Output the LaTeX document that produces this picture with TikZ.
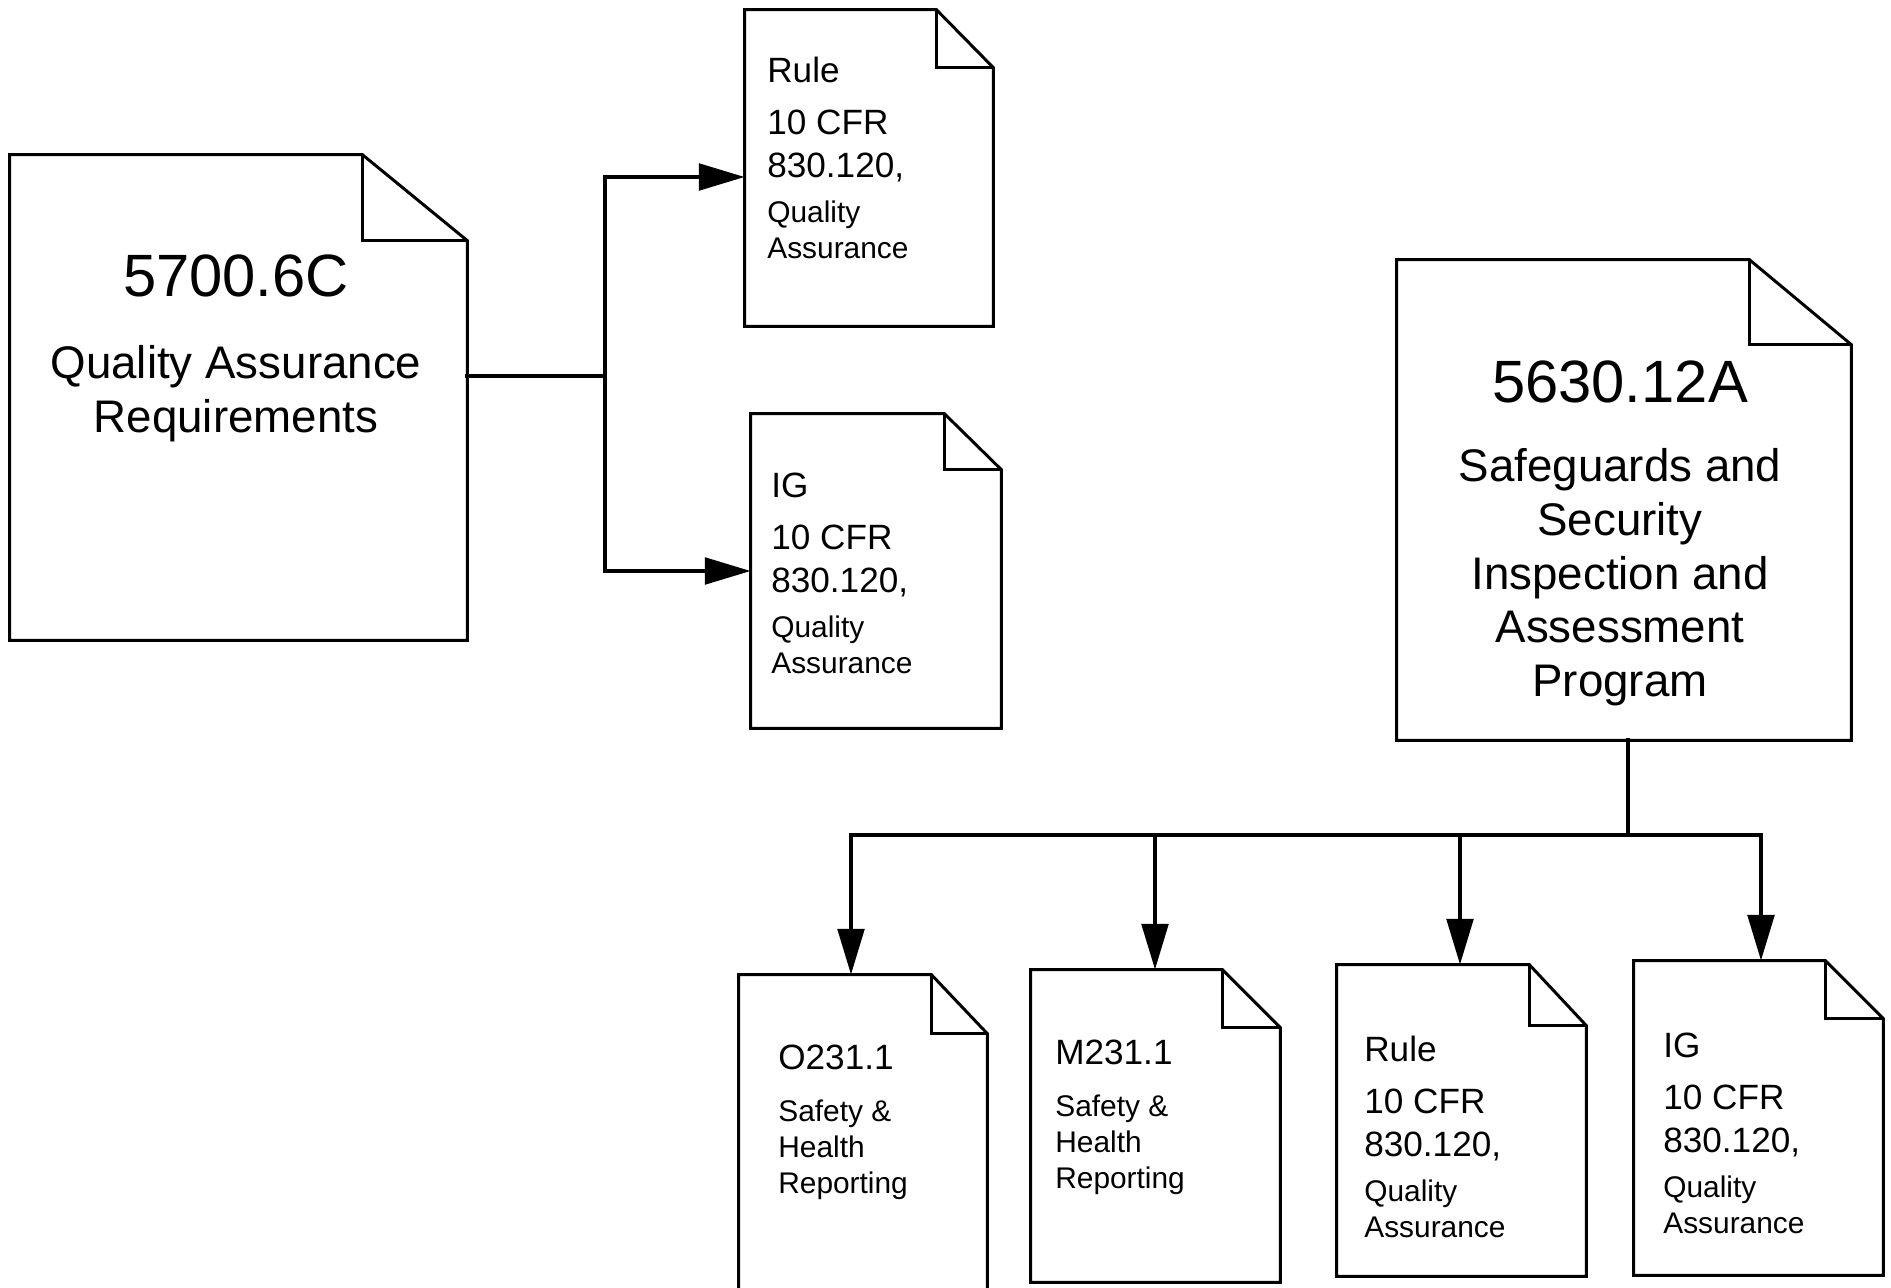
\documentclass[tikz,border=0pt]{standalone}
\usepackage{fontspec}
\setmainfont{Liberation Sans}
\usetikzlibrary{arrows.meta,calc,fit}

% one folded page: name, top left x/y, bottom right x/y, fold width, fold height
\newcommand{\docpage}[7]{%
  \coordinate (#1-nw) at (#2,#3);
  \coordinate (#1-se) at (#4,#5);
  \node[fit=(#1-nw)(#1-se), inner sep=0pt] (#1) {};
  \draw[page] (#1.north west) -- ($(#1.north east)+(-#6,0)$)
    -- ($(#1.north east)+(0,#7)$) -- (#1.south east) -- (#1.south west) -- cycle;
  \draw[page] ($(#1.north east)+(-#6,0)$) |- ($(#1.north east)+(0,#7)$);}
\newcommand{\hd}[1]{{\fontsize{20}{24}\selectfont #1}}

\begin{document}
\begin{tikzpicture}[x=0.02cm, y=-0.02cm,
  page/.style={line width=1.7pt, line join=miter},
  link/.style={line width=2.4pt, line cap=rect, line join=miter},
  arrow/.style={link, -{Triangle[length=26pt,width=15pt]}},
  bigtxt/.style={align=center, anchor=north, inner sep=0pt,
                 font=\fontsize{26}{30.7}\selectfont},
  doctxt/.style={align=left, anchor=north west, inner sep=0pt,
                 font=\fontsize{17}{20.5}\selectfont}]

\useasboundingbox (0,0) rectangle (1891,1288);
\clip (0,0) rectangle (1891,1288);

% ================================================ pages
\docpage{qa}{10}{155}{467}{640}{105}{86}
\docpage{rule1}{745}{10}{993}{326}{57}{58}
\docpage{ig1}{751}{414}{1001}{728}{57}{56}
\docpage{ss}{1397}{260}{1851}{740}{102}{85}
\docpage{o231}{739}{975}{987}{1320}{56}{59}
\docpage{m231}{1031}{970}{1280}{1282}{58}{58}
\docpage{rule2}{1337}{965}{1586}{1276}{57}{61}
\docpage{ig2}{1634}{961}{1883}{1275}{58}{58}

% ================================================ texts
\node[bigtxt] (qa-txt) at (236,254)
  {{\fontsize{34}{40}\selectfont 5700.6C}\\[16pt] Quality Assurance\\ Requirements};
\node[bigtxt] (ss-txt) at (1620,360)
  {{\fontsize{34}{40}\selectfont 5630.12A}\\[14.3pt] Safeguards and\\ Security\\
   Inspection and\\ Assessment\\ Program};
\node[doctxt] (rule1-txt) at (767,57)
  {\hd{Rule}\\[9pt] \hd{10 CFR}\\[4pt] \hd{830.120,}\\[5pt] Quality\\ Assurance};
\node[doctxt] (ig1-txt) at (771,473)
  {\hd{IG}\\[9pt] \hd{10 CFR}\\[4pt] \hd{830.120,}\\[5pt] Quality\\ Assurance};
\node[doctxt] (o231-txt) at (778,1045)
  {\hd{O231.1}\\[9pt] Safety \&\\ Health\\ Reporting};
\node[doctxt] (m231-txt) at (1055,1040)
  {\hd{M231.1}\\[9pt] Safety \&\\ Health\\ Reporting};
\node[doctxt] (rule2-txt) at (1364,1036)
  {\hd{Rule}\\[9pt] \hd{10 CFR}\\[4pt] \hd{830.120,}\\[5pt] Quality\\ Assurance};
\node[doctxt] (ig2-txt) at (1663,1033)
  {\hd{IG}\\[9pt] \hd{10 CFR}\\[4pt] \hd{830.120,}\\[5pt] Quality\\ Assurance};

% ================================================ connectors
\coordinate (split) at (605,376);
\draw[arrow] (qa.east |- split) -- (split) |- ($(rule1.west)+(0,9)$);
\draw[arrow] (split) |- (ig1.west);

\coordinate (bus) at (1628,835);
\draw[link] (ss.south -| bus) -- (bus);
\draw[link] (851,835) -- (1761,835);
\foreach \d/\x in {o231/851, m231/1155, rule2/1460, ig2/1761} {
  \coordinate (drop) at (\x,835);
  \draw[arrow] (drop) -- (drop |- \d.north);
}

\end{tikzpicture}
\end{document}
